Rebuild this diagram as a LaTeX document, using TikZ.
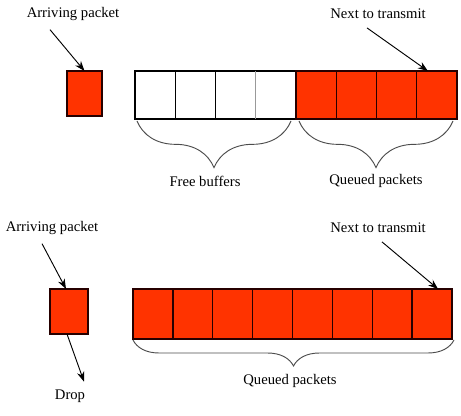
\documentclass[tikz,border=0pt]{standalone}
\usepackage{fontspec}
\setmainfont{Liberation Serif}
\usetikzlibrary{arrows.meta,calc,decorations.pathreplacing}
\definecolor{pktred}{RGB}{255,51,0}

\begin{document}
\begin{tikzpicture}[x=0.75pt, y=-0.75pt, line width=0.8pt, font=\fontsize{11}{13}\selectfont,
  cell/.style={draw, line width=1pt, minimum height=36pt, minimum width=30.2pt, inner sep=0pt, outer sep=0pt},
  full/.style={cell, fill=pktred, draw=black!85!red},
  pktarrow/.style={-{Stealth[length=7.5pt, width=5.5pt]}, line width=0.7pt},
  brc/.style={draw=black!70, line width=0.7pt, decorate, decoration={brace, mirror, amplitude=#1}}]
  \useasboundingbox (0,0) rectangle (461,416);

  % first case: room left in the buffer
  \node (arr1) at (73,14) {Arriving packet};
  \node[full, minimum width=26.3pt, minimum height=33.8pt] (pkt1) at (84.5,93.5) {};
  \foreach \i in {0,...,3}
    \node[cell] (q\i) at ({135+40.25*(\i+0.5)},95) {};
  \foreach \i in {4,...,7}
    \node[full] (q\i) at ({135+40.25*(\i+0.5)},95) {};
  \draw[black!40, line width=1pt] (q2.north east) -- (q2.south east);
  \node (nxt1) at (378,14) {Next to transmit};
  \draw[pktarrow] ($(arr1.south)+(-23,4)$) -- (pkt1.north);
  \draw[pktarrow] ($(nxt1.south)+(-11,4)$) -- ($(q7.north)+(-9,0)$);
  % braces
  \draw[brc=35pt] ($(q0.south west)+(2,2)$) -- ($(q3.south east)+(-5,2)$);
  \draw[brc=35pt] ($(q4.south west)+(3,2)$) -- ($(q7.south east)+(-4,2)$);
  \node (free) at (205,181) {Free buffers};
  \node (que1) at (376,181) {Queued packets};

  % second case: buffer full, packet dropped
  \node (arr2) at (52,228) {Arriving packet};
  \node[full, minimum width=28.5pt, minimum height=33.8pt] (pkt2) at (69,311.5) {};
  \foreach \i in {0,...,7}
    \node[full, minimum width=29.9pt, minimum height=37.5pt] (b\i) at ({133+39.875*(\i+0.5)},314) {};
  \node (nxt2) at (378,228) {Next to transmit};
  \node (drop) at (70,396) {Drop};
  \draw[pktarrow] ($(arr2.south)+(-10,4)$) -- ($(pkt2.north)+(-3,0)$);
  \draw[pktarrow] ($(pkt2.south)+(-2,0)$) -- ($(drop.north)+(14,-3)$);
  \draw[pktarrow] ($(nxt2.south)+(4,4)$) -- ($(b7.north)+(6,0)$);
  \draw[brc=19.5pt] ($(b0.south west)+(0,1)$) -- ($(b7.south east)+(2,1)$);
  \node (que2) at (290,381) {Queued packets};
\end{tikzpicture}
\end{document}
